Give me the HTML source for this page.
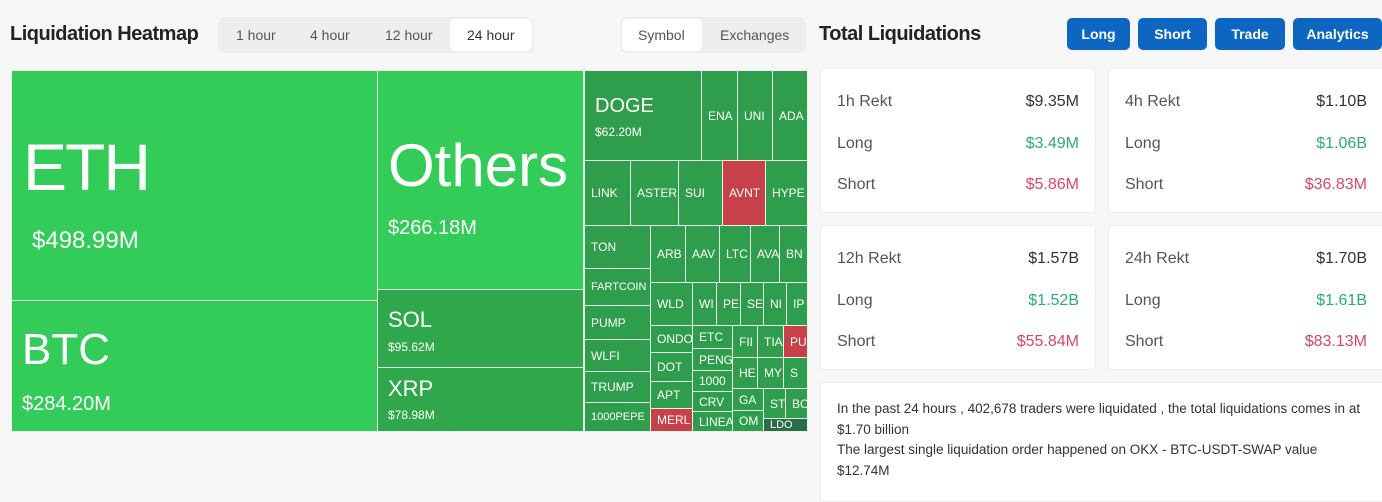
<!DOCTYPE html><html><head><style>
body{margin:0;width:1382px;height:486px;background:#f7f7f7;font-family:"Liberation Sans",sans-serif;position:relative;overflow:hidden}
.a{position:absolute;box-sizing:border-box}
.c{position:absolute;box-sizing:border-box;background:#2f9e4c;border:1px solid #e8f5ea;color:#fff;font-size:12px;overflow:hidden;white-space:nowrap;display:flex;align-items:center;padding-left:6px}
.r{background:#c8414a}
.btn{position:absolute;top:18px;height:32px;background:#0d66c2;color:#fff;font-weight:bold;font-size:14px;border-radius:5px;display:flex;align-items:center;justify-content:center}
.card{position:absolute;background:#fff;border:1px solid #ececec;border-radius:4px;box-sizing:border-box}
.row{position:absolute;left:16px;right:16px;font-size:16px;color:#555;display:flex;justify-content:space-between}
.row b{font-weight:normal;color:#333}
.g{color:#2eaa7a!important}.rd{color:#d64765!important}
</style></head><body>
<div class="a" style="left:10px;top:23px;font-size:20px;font-weight:bold;color:#222;letter-spacing:-0.5px">Liquidation Heatmap</div>
<div class="a" style="left:218px;top:17px;width:316px;height:36px;background:#eceef0;border-radius:6px"></div>
<div class="a" style="left:450px;top:19px;width:82px;height:32px;background:#fff;border-radius:5px"></div>
<div class="a" style="left:236px;top:27px;font-size:14px;color:#555">1 hour</div>
<div class="a" style="left:310px;top:27px;font-size:14px;color:#555">4 hour</div>
<div class="a" style="left:385px;top:27px;font-size:14px;color:#555">12 hour</div>
<div class="a" style="left:467px;top:27px;font-size:14px;color:#333">24 hour</div>
<div class="a" style="left:620px;top:17px;width:186px;height:36px;background:#eceef0;border-radius:6px"></div>
<div class="a" style="left:622px;top:19px;width:80px;height:32px;background:#fff;border-radius:5px"></div>
<div class="a" style="left:638px;top:27px;font-size:14px;color:#555">Symbol</div>
<div class="a" style="left:720px;top:27px;font-size:14px;color:#555">Exchanges</div>

<div class="c" style="left:11px;top:70px;width:367px;height:231px;background:#33cc58;display:block;padding:0"><div style="position:absolute;left:11px;top:58px;font-size:66px;letter-spacing:-2px">ETH</div><div style="position:absolute;left:20px;top:156px;font-size:24px">$498.99M</div></div>
<div class="c" style="left:11px;top:300px;width:367px;height:132px;background:#33cc58;display:block;padding:0"><div style="position:absolute;left:10px;top:24px;font-size:44px">BTC</div><div style="position:absolute;left:10px;top:92px;font-size:20px">$284.20M</div></div>
<div class="c" style="left:377px;top:70px;width:207px;height:220px;background:#33cc58;display:block;padding:0"><div style="position:absolute;left:10px;top:60px;font-size:60px">Others</div><div style="position:absolute;left:10px;top:146px;font-size:20px">$266.18M</div></div>
<div class="c" style="left:377px;top:289px;width:207px;height:79px;background:#2ea84a;display:block;padding:0"><div style="position:absolute;left:10px;top:17px;font-size:22px">SOL</div><div style="position:absolute;left:10px;top:50px;font-size:12px">$95.62M</div></div>
<div class="c" style="left:377px;top:367px;width:207px;height:65px;background:#2ea84a;display:block;padding:0"><div style="position:absolute;left:10px;top:8px;font-size:22px">XRP</div><div style="position:absolute;left:10px;top:40px;font-size:12px">$78.98M</div></div>

<div class="c" style="left:584px;top:70px;width:118px;height:91px;display:block;padding:0"><div style="position:absolute;left:10px;top:24px;font-size:20px">DOGE</div><div style="position:absolute;left:10px;top:54px;font-size:12px">$62.20M</div></div>
<div class="c" style="left:701px;top:70px;width:37px;height:91px">ENA</div>
<div class="c" style="left:737px;top:70px;width:36px;height:91px">UNI</div>
<div class="c" style="left:772px;top:70px;width:36px;height:91px">ADA</div>
<div class="c" style="left:584px;top:160px;width:47px;height:66px">LINK</div>
<div class="c" style="left:630px;top:160px;width:49px;height:66px">ASTER</div>
<div class="c" style="left:678px;top:160px;width:45px;height:66px">SUI</div>
<div class="c r" style="left:722px;top:160px;width:44px;height:66px">AVNT</div>
<div class="c" style="left:765px;top:160px;width:43px;height:66px">HYPE</div>
<div class="c" style="left:584px;top:225px;width:67px;height:44px">TON</div>
<div class="c" style="left:584px;top:268px;width:67px;height:38px;font-size:11px">FARTCOIN</div>
<div class="c" style="left:584px;top:305px;width:67px;height:35px">PUMP</div>
<div class="c" style="left:584px;top:339px;width:67px;height:33px">WLFI</div>
<div class="c" style="left:584px;top:371px;width:67px;height:32px">TRUMP</div>
<div class="c" style="left:584px;top:402px;width:67px;height:30px;font-size:11px">1000PEPE</div>
<div class="c" style="left:650px;top:225px;width:36px;height:58px">ARB</div>
<div class="c" style="left:685px;top:225px;width:35px;height:58px">AAV</div>
<div class="c" style="left:719px;top:225px;width:32px;height:58px">LTC</div>
<div class="c" style="left:750px;top:225px;width:30px;height:58px">AVA</div>
<div class="c" style="left:779px;top:225px;width:29px;height:58px">BN</div>
<div class="c" style="left:650px;top:282px;width:43px;height:44px">WLD</div>
<div class="c" style="left:692px;top:282px;width:25px;height:44px">WI</div>
<div class="c" style="left:716px;top:282px;width:25px;height:44px">PE</div>
<div class="c" style="left:740px;top:282px;width:24px;height:44px">SE</div>
<div class="c" style="left:763px;top:282px;width:24px;height:44px">NI</div>
<div class="c" style="left:786px;top:282px;width:22px;height:44px">IP</div>
<div class="c" style="left:650px;top:325px;width:43px;height:28px">ONDO</div>
<div class="c" style="left:650px;top:352px;width:43px;height:30px">DOT</div>
<div class="c" style="left:650px;top:381px;width:43px;height:28px">APT</div>
<div class="c r" style="left:650px;top:408px;width:43px;height:24px">MERL</div>
<div class="c" style="left:692px;top:325px;width:41px;height:24px">ETC</div>
<div class="c" style="left:692px;top:348px;width:41px;height:23px">PENG</div>
<div class="c" style="left:692px;top:370px;width:41px;height:22px">1000</div>
<div class="c" style="left:692px;top:391px;width:41px;height:21px">CRV</div>
<div class="c" style="left:692px;top:411px;width:41px;height:21px">LINEA</div>
<div class="c" style="left:732px;top:325px;width:26px;height:33px">FII</div>
<div class="c" style="left:757px;top:325px;width:27px;height:33px">TIA</div>
<div class="c r" style="left:783px;top:325px;width:25px;height:33px">PU</div>
<div class="c" style="left:732px;top:357px;width:26px;height:32px">HE</div>
<div class="c" style="left:757px;top:357px;width:27px;height:32px">MY</div>
<div class="c" style="left:783px;top:357px;width:25px;height:32px">S</div>
<div class="c" style="left:732px;top:388px;width:32px;height:23px">GA</div>
<div class="c" style="left:732px;top:410px;width:32px;height:22px">OM</div>
<div class="c" style="left:763px;top:388px;width:23px;height:31px">ST</div>
<div class="c" style="left:785px;top:388px;width:23px;height:31px">BO</div>
<div class="c" style="left:763px;top:418px;width:45px;height:14px;background:#2a6e48;font-size:11px">LDO</div>

<div class="a" style="left:819px;top:23px;font-size:20px;font-weight:bold;color:#222;letter-spacing:-0.5px">Total Liquidations</div>
<div class="btn" style="left:1067px;width:63px">Long</div>
<div class="btn" style="left:1138px;width:69px">Short</div>
<div class="btn" style="left:1215px;width:70px">Trade</div>
<div class="btn" style="left:1293px;width:89px">Analytics</div>

<div class="card" style="left:820px;top:68px;width:276px;height:145px">
<div class="row" style="top:24px"><span>1h Rekt</span><b>$9.35M</b></div>
<div class="row" style="top:66px"><span>Long</span><b class="g">$3.49M</b></div>
<div class="row" style="top:107px"><span>Short</span><b class="rd">$5.86M</b></div></div>
<div class="card" style="left:1108px;top:68px;width:290px;height:145px">
<div class="row" style="top:24px;right:30px"><span>4h Rekt</span><b>$1.10B</b></div>
<div class="row" style="top:66px;right:30px"><span>Long</span><b class="g">$1.06B</b></div>
<div class="row" style="top:107px;right:30px"><span>Short</span><b class="rd">$36.83M</b></div></div>
<div class="card" style="left:820px;top:225px;width:276px;height:145px">
<div class="row" style="top:24px"><span>12h Rekt</span><b>$1.57B</b></div>
<div class="row" style="top:66px"><span>Long</span><b class="g">$1.52B</b></div>
<div class="row" style="top:107px"><span>Short</span><b class="rd">$55.84M</b></div></div>
<div class="card" style="left:1108px;top:225px;width:290px;height:145px">
<div class="row" style="top:24px;right:30px"><span>24h Rekt</span><b>$1.70B</b></div>
<div class="row" style="top:66px;right:30px"><span>Long</span><b class="g">$1.61B</b></div>
<div class="row" style="top:107px;right:30px"><span>Short</span><b class="rd">$83.13M</b></div></div>
<div class="card" style="left:820px;top:382px;width:580px;height:120px">
<div class="a" style="left:16px;top:16px;width:535px;font-size:13.5px;line-height:20.5px;color:#333">In the past 24 hours , 402,678 traders were liquidated , the total liquidations comes in at $1.70 billion<br>The largest single liquidation order happened on OKX - BTC-USDT-SWAP value $12.74M</div></div>
</body></html>
